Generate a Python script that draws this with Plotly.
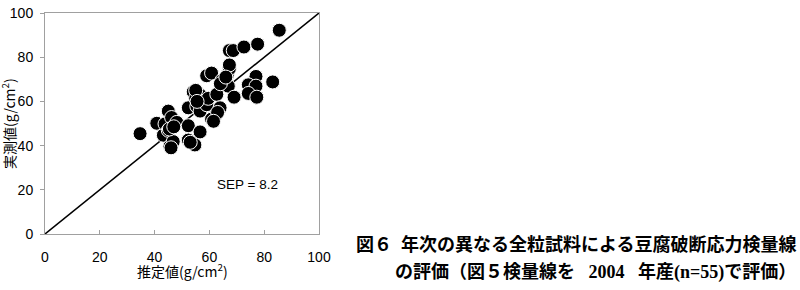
import plotly.graph_objects as go

# Estimated (predicted) values, g/cm2
predicted = [34.7, 40.8, 43.2, 43.8, 45.0, 46.2, 45.0, 45.6, 46.8, 48.1,
             52.3, 52.3, 54.7, 56.6, 52.3, 55.4, 56.6, 59.0, 54.1, 56.6,
             55.0, 59.6, 62.7, 63.9, 62.0, 60.8, 59.0, 60.8, 64.5, 66.5,
             67.3, 67.3, 66.9, 69.0, 67.3, 68.7, 72.6, 77.6, 85.5, 77.0,
             74.2, 77.0, 74.2, 77.3, 83.1, 45.4, 46.0, 53.0, 55.0, 63.0,
             64.0, 55.5, 47.0, 61.5, 66.0]
# Measured values, g/cm2
measured = [45.4, 50.1, 44.7, 49.8, 55.6, 52.7, 46.9, 39.6, 41.8, 50.5,
            49.0, 42.5, 40.3, 46.2, 57.1, 57.8, 55.6, 58.5, 64.3, 62.9,
            61.4, 61.4, 63.2, 57.1, 53.4, 52.0, 71.6, 72.8, 69.4, 71.9,
            74.8, 76.5, 66.9, 61.9, 83.0, 83.0, 84.6, 85.9, 92.2, 71.3,
            67.5, 66.9, 63.6, 61.9, 68.8, 47.5, 39.0, 41.5, 65.0, 55.0,
            68.0, 60.0, 48.5, 51.0, 71.0]
line_x = [0, 100]
line_y = [0, 100]
tick_vals = [0, 20, 40, 60, 80, 100]
tick_text = ["0", "20", "40", "60", "80", "100"]

fig = go.Figure()
fig.add_trace(go.Scatter(x=line_x, y=line_y, mode="lines",
                         line=dict(color="black", width=1.5),
                         hoverinfo="skip", showlegend=False))
fig.add_trace(go.Scatter(x=predicted, y=measured, mode="markers",
                         marker=dict(color="black", size=14,
                                     line=dict(color="white", width=1)),
                         showlegend=False))

L, R, T, B = 45, 319, 5, 234
W, H = 800, 290
pw, ph = R - L, B - T

def px(x):
    return (x - L) / pw

def py(y):
    return (B - y) / ph

axis_common = dict(range=[0, 100], tickvals=tick_vals, ticktext=tick_text,
                   showgrid=False, zeroline=False, showline=True, mirror=True,
                   linecolor="#a0a0a0", linewidth=1, tickcolor="#a0a0a0",
                   ticklen=4, ticklabeloverflow="allow",
                   tickfont=dict(family="Liberation Sans, Arial", size=14, color="black"))

fig.update_layout(
    width=W, height=H,
    margin=dict(l=L, r=W - R, t=T, b=H - B),
    plot_bgcolor="white", paper_bgcolor="white",
    xaxis=dict(**axis_common, ticks="inside", ticklabelstandoff=10),
    yaxis=dict(**axis_common, ticks="outside", ticklabelstandoff=4),
    font=dict(family="Noto Sans CJK JP", color="black"),
)

fig.add_annotation(x=74, y=22.3, xref="x", yref="y", text="SEP = 8.2",
                   showarrow=False, xanchor="center", yanchor="middle",
                   font=dict(family="Liberation Sans, Arial", size=13.5, color="black"))
fig.add_annotation(x=px(182), y=py(272), xref="paper", yref="paper",
                   xanchor="center", yanchor="middle",
                   text="推定値(g/cm<sup>2</sup>)", showarrow=False,
                   font=dict(family="Noto Sans CJK JP", size=14, color="black"))
fig.add_annotation(x=px(9), y=py(120), xref="paper", yref="paper",
                   xanchor="center", yanchor="middle",
                   text="実測値(g/cm<sup>2</sup>)", showarrow=False, textangle=-90,
                   font=dict(family="Noto Sans CJK JP", size=14, color="black"))

cap_font = dict(family="Liberation Serif, Noto Sans CJK JP", size=18, color="black")
fig.add_annotation(x=px(798), y=py(245), xref="paper", yref="paper",
                   xanchor="right", yanchor="middle",
                   text="<b>図６  年次の異なる全粒試料による豆腐破断応力検量線</b>",
                   showarrow=False, font=cap_font)
fig.add_annotation(x=px(798), y=py(273), xref="paper", yref="paper",
                   xanchor="right", yanchor="middle",
                   text="<b>の評価（図５検量線を   2004   年産(n=55)で評価）</b>",
                   showarrow=False, font=cap_font)

fig.write_html("out.html")
